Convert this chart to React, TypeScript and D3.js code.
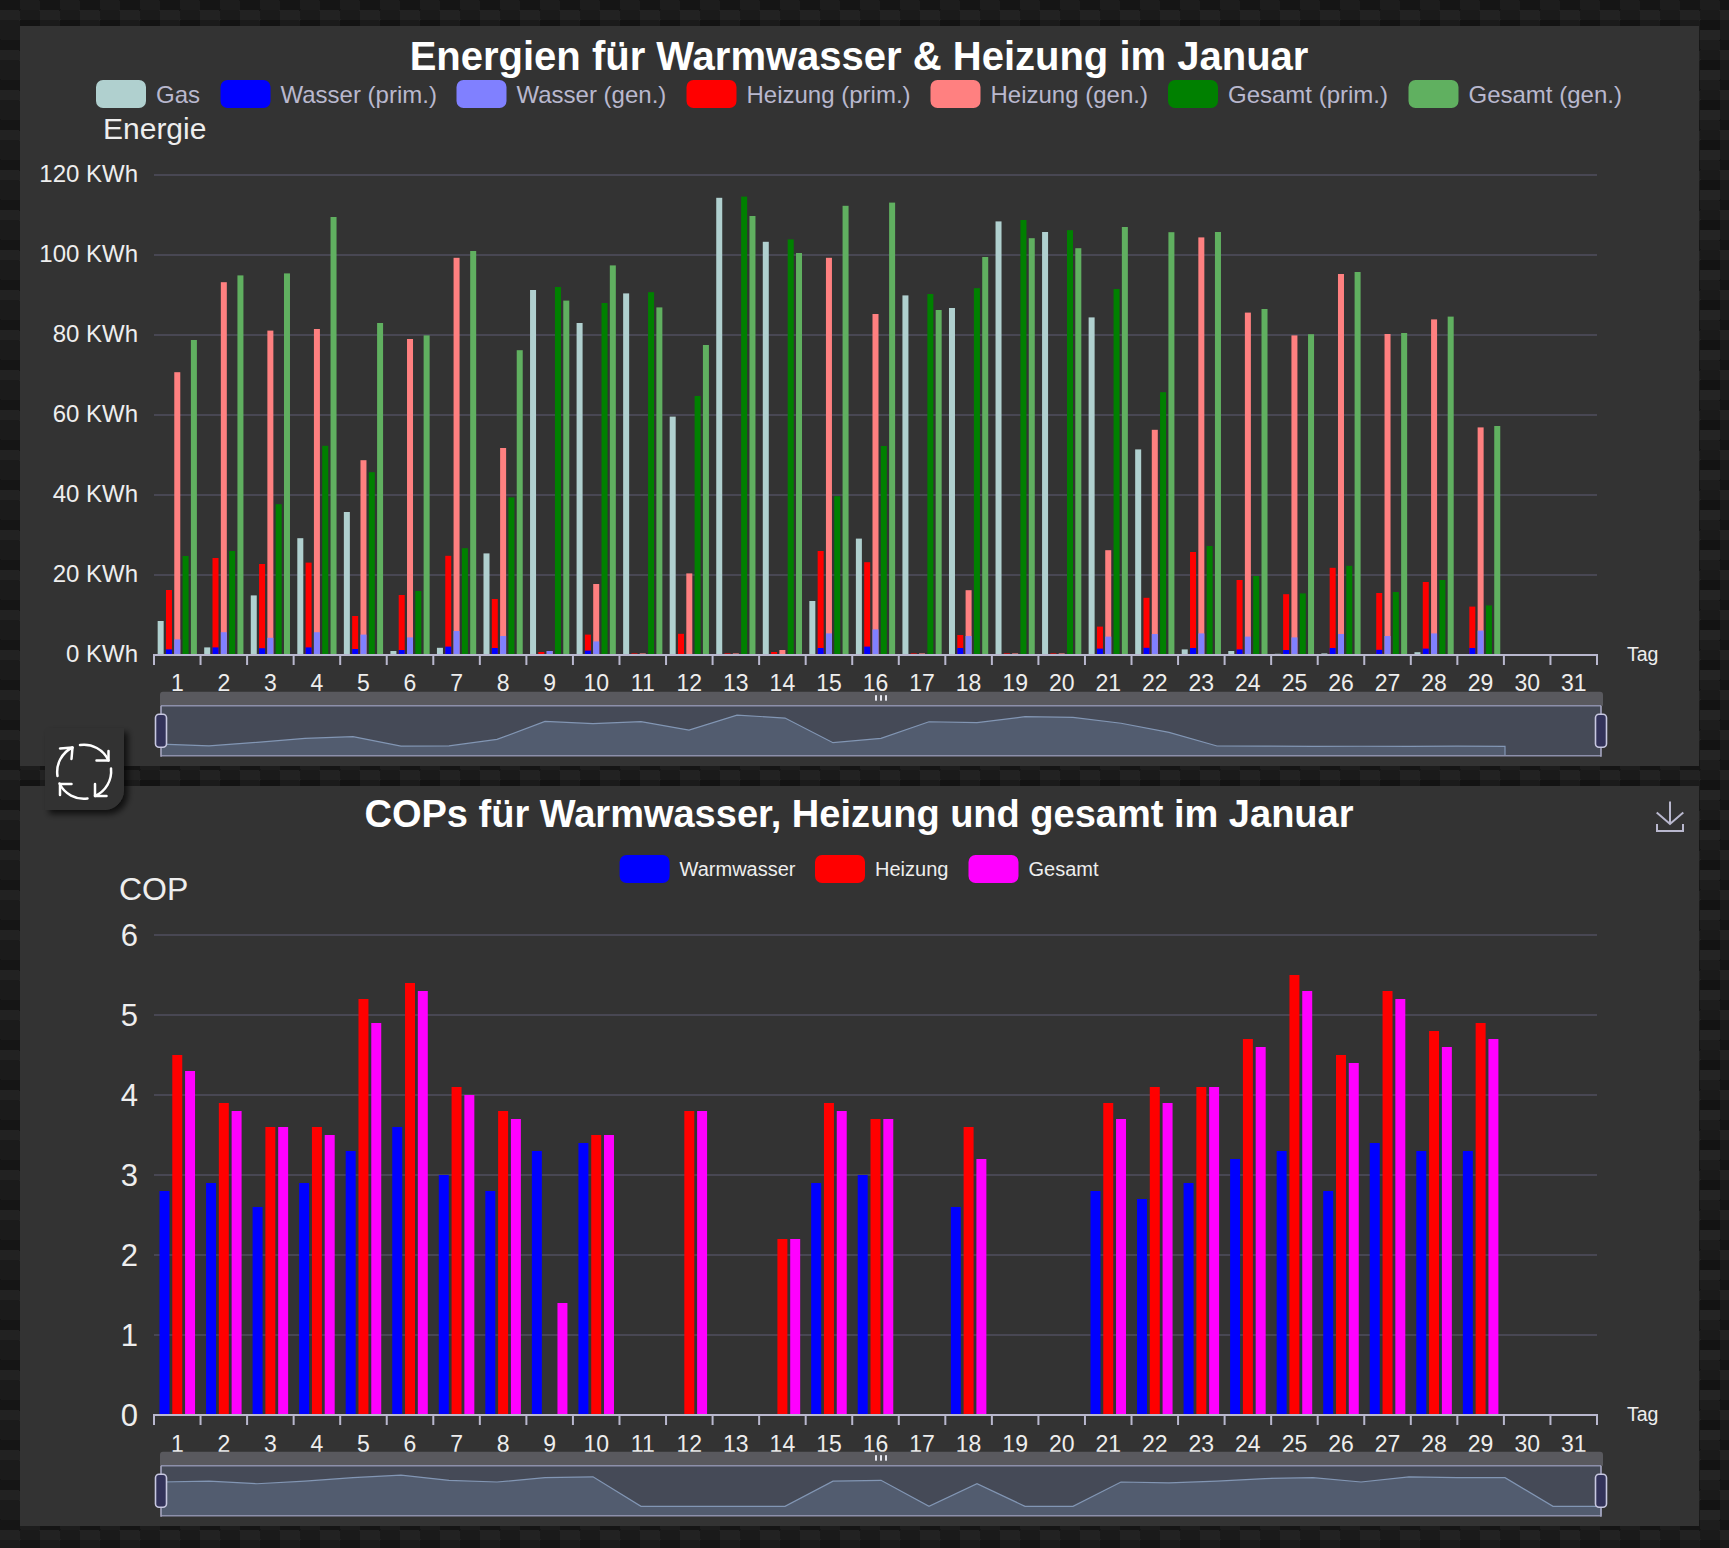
import React from "react";
import * as d3 from "d3";

// ---------- data ----------
const days = d3.range(1, 32).map(String);
const gas = [8.5,1.9,14.9,29.2,35.75,1,1.8,25.4,91.25,83,90.4,59.6,114.3,103.3,13.5,29.1,89.9,86.75,108.4,105.75,84.4,51.4,1.4,1,0.3,0.4,0.2,0.7,0.2,null,null];
const wasserPrim = [1.4,1.9,1.7,1.9,1.5,1.25,2.1,1.75,0.2,1.1,0,0,0,0,1.75,2.1,0,1.75,0,0,1.6,1.8,1.75,1.4,1.25,1.75,1.3,1.6,1.75,0,0];
const wasserGen = [3.9,5.7,4.3,5.7,5.1,4.4,6,4.75,1,3.4,0,0,0,0,5.4,6.4,0,4.75,0,0,4.6,5.25,5.4,4.6,4.4,5.25,4.75,5.4,6.1,0,0];
const heizungPrimTop = [16.25,24.25,22.75,23.1,9.75,15,24.8,14,0.75,5.1,0.4,5.3,0.4,0.75,26,23.2,0.4,5,0.4,0.4,7.1,14.3,25.75,18.75,15.2,21.8,15.5,18.25,12.1,0,0];
const heizungGenTop = [70.7,93.2,81.1,81.5,48.7,79,99.3,51.75,1,17.75,0.4,20.4,0.4,1.25,99.3,85.25,0.4,16.2,0.4,0.4,26.2,56.3,104.4,85.6,79.9,95.25,80.25,83.9,56.9,0,0];
const gesamtPrim = [24.75,26,37.7,52.3,45.7,16,26.7,39.4,92,88,90.7,64.75,114.6,103.9,39.7,52.25,90.25,91.7,108.75,106.2,91.5,65.7,27.25,19.75,15.4,22.3,15.75,18.75,12.4,0,0];
const gesamtGen = [78.75,94.9,95.4,109.5,83,79.9,101,76.2,88.6,97.4,86.9,77.5,109.75,100.5,112.3,113.1,86.25,99.5,104.2,101.7,107,105.7,105.75,86.5,80.2,95.75,80.5,84.6,57.25,0,0];

const copWarmwasser = [2.8,2.9,2.6,2.9,3.3,3.6,3.0,2.8,3.3,3.4,0,0,0,0,2.9,3.0,0,2.6,0,0,2.8,2.7,2.9,3.2,3.3,2.8,3.4,3.3,3.3,0,0];
const copHeizung = [4.5,3.9,3.6,3.6,5.2,5.4,4.1,3.8,0,3.5,0,3.8,0,2.2,3.9,3.7,0,3.6,0,0,3.9,4.1,4.1,4.7,5.5,4.5,5.3,4.8,4.9,0,0];
const copGesamt = [4.3,3.8,3.6,3.5,4.9,5.3,4.0,3.7,1.4,3.5,0,3.8,0,2.2,3.8,3.7,0,3.2,0,0,3.7,3.9,4.1,4.6,5.3,4.4,5.2,4.6,4.7,0,0];

const energyTicks = [0,20,40,60,80,100,120];
const copTicks = [0,1,2,3,4,5,6];
const energyLegendNames = ["Gas","Wasser (prim.)","Wasser (gen.)","Heizung (prim.)","Heizung (gen.)","Gesamt (prim.)","Gesamt (gen.)"];
const energyLegendColors = ["#b0d0cf","#0000ff","#8080ff","#ff0000","#ff8080","#008000","#60b060"];
const copLegendNames = ["Warmwasser","Heizung","Gesamt"];
const copLegendColors = ["#0000ff","#ff0000","#ff00ff"];

// ---------- layout ----------
const FONT = "'Liberation Sans', Arial, Helvetica, sans-serif";
const AXIS = "#B9B8CE";
const GRID = "#484753";
const PANEL = "#333333";
const X0 = 154, X1 = 1597;
const SL0 = 161, SL1 = 1601;
const energyLegendX = [96,220.5,456.5,686.5,930.5,1168,1408.5];
const copLegendX = [619.6,815,968.5];

const carbon = {
  background:
    "linear-gradient(27deg, #151515 10px, transparent 10px) 0 10px, linear-gradient(207deg, #151515 10px, transparent 10px) 20px 0px, linear-gradient(27deg, #222 10px, transparent 10px) 0px 20px, linear-gradient(207deg, #222 10px, transparent 10px) 20px 10px, linear-gradient(90deg, #1b1b1b 20px, transparent 20px), linear-gradient(#1d1d1d 25%, #1a1a1a 25%, #1a1a1a 50%, transparent 50%, transparent 75%, #242424 75%, #242424)",
  backgroundColor: "#131313",
  backgroundSize: "40px 40px",
};

const xScale = d3.scaleBand<string>().domain(days).range([X0, X1]);

function XAxis({ y, labelOffset }: { y: number; labelOffset: number }) {
  const ticks = [...days.map((d) => xScale(d) as number), X1];
  return (
    <g>
      <line x1={X0 - 1} x2={X1 + 1} y1={y} y2={y} stroke={AXIS} strokeWidth={2} />
      {ticks.map((t, i) => (
        <line key={i} x1={t} x2={t} y1={y} y2={y + 10} stroke={AXIS} strokeWidth={2} />
      ))}
      {days.map((d) => (
        <text key={d} x={(xScale(d) as number) + xScale.bandwidth() / 2} y={y + labelOffset} fontSize={23} fill="#eeeeee" textAnchor="middle">{d}</text>
      ))}
      <text x={1627} y={y + 6} fontSize={19.5} fill="#eeeeee">Tag</text>
    </g>
  );
}

function Grid({ ticks, y, fontSize, dy, fmt }: { ticks: number[]; y: d3.ScaleLinear<number, number>; fontSize: number; dy: string; fmt: (v: number) => string }) {
  return (
    <g>
      {ticks.filter((t) => t !== 0).map((t) => (
        <line key={t} x1={X0} x2={X1} y1={y(t)} y2={y(t)} stroke={GRID} strokeWidth={2} />
      ))}
      {ticks.map((t) => (
        <text key={t} x={138} y={y(t)} dy={dy} fontSize={fontSize} fill="#eeeeee" textAnchor="end">{fmt(t)}</text>
      ))}
    </g>
  );
}

function Legend({ names, colors, xs, top, fontSize, color }: { names: string[]; colors: string[]; xs: number[]; top: number; fontSize: number; color: string }) {
  return (
    <g>
      {names.map((n, i) => (
        <g key={n}>
          <rect x={xs[i]} y={top} width={50} height={28} rx={7} fill={colors[i]} />
          <text x={xs[i] + 60} y={top + 14} dy="0.36em" fontSize={fontSize} fill={color}>{n}</text>
        </g>
      ))}
    </g>
  );
}

function Slider({ top, values }: { top: number; values: (number | null)[] }) {
  const barTop = top - 14;
  const bottom = top + 50;
  const nums = values.filter((v) => v !== null) as number[];
  const [lo, hi] = d3.extent(nums) as [number, number];
  const pad = (hi - lo) * 0.3;
  const sx = d3.scalePoint<string>().domain(days).range([SL0, SL1]);
  const sy = d3.scaleLinear().domain([lo - pad, hi + pad]).range([bottom, top]);
  const area = d3.area<number | null>()
    .defined((v) => v !== null)
    .x((_, i) => sx(days[i]) as number)
    .y0(bottom)
    .y1((v) => sy(v as number));
  const pts: [number, number][] = [];
  values.forEach((v, i) => { if (v !== null) pts.push([sx(days[i]) as number, sy(v)]); });
  pts.push([pts[pts.length - 1][0], bottom]);
  const line = d3.line();
  const cx = (SL0 + SL1) / 2;
  return (
    <g>
      <path d={`M160,${top} v-11 a3,3 0 0 1 3,-3 H1600 a3,3 0 0 1 3,3 v11 Z`} fill="#59595e" />
      {[-5, 0, 5].map((d) => (
        <rect key={d} x={cx + d - 1} y={barTop + 3.5} width={2} height={5.5} fill="#e6e6ee" />
      ))}
      <rect x={SL0} y={top} width={SL1 - SL0} height={50} fill="#454a57" />
      <path d={area(values) as string} fill="#525c6f" />
      <path d={line(pts) as string} fill="none" stroke="#8296b4" strokeWidth={1.2} />
      <line x1={SL0} x2={SL1} y1={top} y2={top} stroke="#8d90ab" strokeWidth={1.6} />
      <line x1={SL0} x2={SL1} y1={bottom} y2={bottom} stroke="#8d90ab" strokeWidth={1.6} />
      {[SL0, SL1].map((x) => (
        <g key={x}>
          <line x1={x} x2={x} y1={top} y2={bottom + 1} stroke="#a5a5c0" strokeWidth={1.6} />
          <rect x={x - 5.5} y={top + 8.5} width={11} height={33} rx={3.5} fill="#33335a" stroke="#c8c8e0" strokeWidth={1.6} />
        </g>
      ))}
    </g>
  );
}

function EnergyChart() {
  const y = d3.scaleLinear().domain([0, 120]).range([655, 175]);
  const stacks = ["gas", "prim", "gen", "gp", "gg"];
  const inner = d3.scaleBand<string>().domain(stacks).range([0, xScale.bandwidth()]).paddingInner(0.277).paddingOuter(0.44);
  const w = inner.bandwidth();
  const bar = (key: string, stack: string, vals: (number | null)[], color: string) =>
    vals.map((v, i) => {
      if (v === null || v === 0) return null;
      return <rect key={key + i} x={(xScale(days[i]) as number) + (inner(stack) as number)} y={y(v)} width={w} height={y(0) - y(v)} fill={color} />;
    });
  return (
    <g>
      <rect x={20} y={26} width={1679} height={740} fill={PANEL} />
      <text x={859} y={70} fontSize={40} fontWeight="bold" fill="#ffffff" textAnchor="middle">Energien für Warmwasser &amp; Heizung im Januar</text>
      <Legend names={energyLegendNames} colors={energyLegendColors} xs={energyLegendX} top={80} fontSize={24} color={AXIS} />
      <text x={103} y={139} fontSize={30} fill="#eeeeee">Energie</text>
      <Grid ticks={energyTicks} y={y} fontSize={24} dy="0.31em" fmt={(v) => `${v} KWh`} />
      {bar("g", "gas", gas, energyLegendColors[0])}
      {bar("hp", "prim", heizungPrimTop, energyLegendColors[3])}
      {bar("wp", "prim", wasserPrim, energyLegendColors[1])}
      {bar("hg", "gen", heizungGenTop, energyLegendColors[4])}
      {bar("wg", "gen", wasserGen, energyLegendColors[2])}
      {bar("gp", "gp", gesamtPrim, energyLegendColors[5])}
      {bar("gg", "gg", gesamtGen, energyLegendColors[6])}
      <XAxis y={655} labelOffset={36} />
      <Slider top={705.7} values={gas} />
    </g>
  );
}

function CopChart() {
  const y = d3.scaleLinear().domain([0, 6]).range([1415, 935]);
  const groups = ["w", "h", "g"];
  const inner = d3.scaleBand<string>().domain(groups).range([0, xScale.bandwidth()]).paddingInner(0.22).paddingOuter(0.43);
  const w = inner.bandwidth();
  const bar = (key: string, vals: number[], color: string) =>
    vals.map((v, i) => v === 0 ? null : (
      <rect key={key + i} x={(xScale(days[i]) as number) + (inner(key) as number)} y={y(v)} width={w} height={y(0) - y(v)} fill={color} />
    ));
  return (
    <g>
      <rect x={20} y={786} width={1679} height={740} fill={PANEL} />
      <text x={859} y={827} fontSize={38} fontWeight="bold" fill="#ffffff" textAnchor="middle">COPs für Warmwasser, Heizung und gesamt im Januar</text>
      <Legend names={copLegendNames} colors={copLegendColors} xs={copLegendX} top={855} fontSize={20} color="#eeeeee" />
      <text x={119} y={900} fontSize={32} fill="#eeeeee">COP</text>
      <Grid ticks={copTicks} y={y} fontSize={31} dy="0.36em" fmt={(v) => String(v)} />
      {bar("w", copWarmwasser, copLegendColors[0])}
      {bar("h", copHeizung, copLegendColors[1])}
      {bar("g", copGesamt, copLegendColors[2])}
      <XAxis y={1415} labelOffset={37} />
      <Slider top={1465.7} values={copWarmwasser} />
    </g>
  );
}

function RestoreButton() {
  return (
    <g>
      <path d="M45,728 H124 V790 a20,20 0 0 1 -20,20 H45 Z" fill={PANEL} filter="url(#btnShadow)" />
      <g fill="none" stroke="#ffffff" strokeWidth={2.5} strokeLinecap="round" strokeLinejoin="round">
        <path d="M57.5,776 A27,27 0 0 1 72.5,747.5" />
        <path d="M60,748.5 L72.5,747.5 L71.5,759" />
        <path d="M80,745 A27,27 0 0 1 108.5,760.5" />
        <path d="M96.5,760.5 L108.5,760.5 L108.5,751" />
        <path d="M111,768.5 A27,27 0 0 1 95,796" />
        <path d="M106.5,796 L95,796 L95,784" />
        <path d="M87.5,798.5 A27,27 0 0 1 59.5,783.5" />
        <path d="M71.5,784 L60,784 L60,795" />
      </g>
    </g>
  );
}

function DownloadIcon() {
  return (
    <g fill="none" stroke={AXIS} strokeWidth={2}>
      <path d="M1670,801.5 V824" />
      <path d="M1656.7,812.5 L1670,824 L1683.3,812.5" />
      <path d="M1657,824 V831 H1683 V824" />
    </g>
  );
}

export default function App() {
  return (
    <svg width={1729} height={1548} viewBox="0 0 1729 1548" fontFamily={FONT}
      style={{ position: "absolute", left: 0, top: 0, display: "block", ...carbon }}>
      <defs>
        <filter id="btnShadow" x="-20%" y="-20%" width="150%" height="150%">
          <feDropShadow dx={4} dy={4} stdDeviation={3} floodColor="#000" floodOpacity={0.7} />
        </filter>
      </defs>
      <CopChart />
      <EnergyChart />
      <RestoreButton />
      <DownloadIcon />
    </svg>
  );
}
